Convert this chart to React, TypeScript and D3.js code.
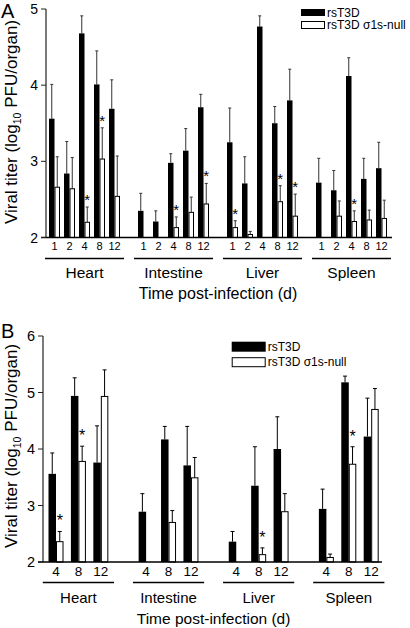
import React from "react";
import * as d3 from "d3";

// ---------- DATA ----------
const organs = ["Heart", "Intestine", "Liver", "Spleen"];
const seriesNames = ["rsT3D", "rsT3D σ1s-null"];
const daysA = ["1", "2", "4", "8", "12"];
const daysB = ["4", "8", "12"];
const yTicksA = [2, 3, 4, 5];
const yTicksB = [2, 3, 4, 5, 6];

// Panel A (organ-major, days 1,2,4,8,12)
const aWildMean = [3.56, 2.84, 4.68, 4.01, 3.69, 2.35, 2.21, 2.98, 3.14, 3.71, 3.25, 2.71, 4.77, 3.5, 3.8, 2.72, 2.62, 4.12, 2.77, 2.91];
const aWildErr = [0.45, 0.42, 0.23, 0.44, 0.38, 0.23, 0.14, 0.12, 0.29, 0.17, 0.45, 0.35, 0.14, 0.22, 0.41, 0.32, 0.26, 0.24, 0.27, 0.34];
const aNullMean = [2.66, 2.64, 2.2, 3.03, 2.54, null, null, 2.13, 2.33, 2.44, 2.13, 2.04, null, 2.47, 2.28, null, 2.28, 2.21, 2.23, 2.25];
const aNullErr = [0.4, 0.41, 0.2, 0.41, 0.53, null, null, 0.14, 0.2, 0.27, 0.09, 0.04, null, 0.21, 0.29, null, 0.2, 0.14, 0.13, 0.24];
const aStars = [0, 0, 1, 1, 0, 0, 0, 1, 0, 1, 1, 0, 0, 1, 1, 0, 0, 1, 0, 0];

// Panel B (organ-major, days 4,8,12)
const bWildMean = [3.56, 4.94, 3.76, 2.89, 4.17, 3.71, 2.36, 3.35, 4.0, 2.94, 5.18, 4.22];
const bWildErr = [0.37, 0.32, 0.65, 0.32, 0.23, 0.69, 0.18, 0.69, 0.57, 0.35, 0.11, 0.68];
const bNullMean = [2.36, 3.78, 4.93, null, 2.7, 3.49, null, 2.13, 2.89, 2.08, 3.73, 4.7];
const bNullErr = [0.18, 0.27, 0.47, null, 0.21, 0.36, null, 0.12, 0.32, 0.06, 0.31, 0.37];
const bStars = [1, 1, 0, 0, 0, 0, 0, 1, 0, 0, 1, 0];

const FONT = "Arial, 'Liberation Sans', Helvetica, sans-serif";

type Cfg = {
  letter: string;
  letterY: number;
  days: string[];
  wildMean: (number | null)[];
  wildErr: (number | null)[];
  nullMean: (number | null)[];
  nullErr: (number | null)[];
  stars: number[];
  yTicks: number[];
  yBottom: number;
  yTop: number;
  axisX: number;
  axisEndX: number;
  xStart: number;
  xEnd: number;
  padInner: number;
  barW: number;
  capW: number;
  errColor: string;
  tickLabelY: number;
  tickFont: number;
  yTickFont: number;
  underlineY: number;
  organY: number;
  organFont: number;
  titleY: number;
  titleFont: number;
  yLabelX: number;
  yLabelY: number;
  yLabelFont: number;
  legX: number;
  legW: number;
  legRows: { y: number; h: number; ty: number }[];
  legFont: number;
  starFont: number;
  starOffset: number;
};

function Panel({ c }: { c: Cfg }) {
  const yDom = [c.yTicks[0], c.yTicks[c.yTicks.length - 1]];
  const y = d3.scaleLinear().domain(yDom).range([c.yBottom, c.yTop]);
  const xo = d3.scaleBand<string>().domain(organs).range([c.xStart, c.xEnd]).paddingInner(c.padInner).paddingOuter(0);
  const xi = d3.scaleBand<string>().domain(c.days).range([0, xo.bandwidth()]).padding(0);
  const series = [
    { mean: c.wildMean, err: c.wildErr, fill: "#000", stroke: "#000", dx: -c.barW },
    { mean: c.nullMean, err: c.nullErr, fill: "#fff", stroke: "#000", dx: 0 },
  ];
  const nd = c.days.length;
  const base = y(yDom[0]);
  return (
    <g>
      <text x={1} y={c.letterY} fontSize={20} fontFamily={FONT}>{c.letter}</text>
      <text
        transform={`translate(${c.yLabelX},${c.yLabelY}) rotate(-90)`}
        textAnchor="middle"
        fontSize={c.yLabelFont}
        fontFamily={FONT}
      >
        Viral titer (log<tspan dy={4} fontSize={c.yLabelFont * 0.62}>10</tspan>
        <tspan dy={-4}> PFU/organ)</tspan>
      </text>
      {organs.map((o, oi) =>
        c.days.map((d, di) => {
          const idx = oi * nd + di;
          const cx = (xo(o) as number) + (xi(d) as number) + xi.bandwidth() / 2;
          return (
            <g key={o + d}>
              {series.map((s, si) => {
                const m = s.mean[idx];
                const e = s.err[idx];
                if (m == null) return null;
                const x0 = cx + s.dx;
                const bx = x0 + c.barW / 2;
                const top = y(m);
                const et = y(m + (e ?? 0));
                return (
                  <g key={si}>
                    <line x1={bx} x2={bx} y1={top} y2={et} stroke={c.errColor} strokeWidth={1} />
                    <line x1={bx - c.capW / 2} x2={bx + c.capW / 2} y1={et} y2={et} stroke={c.errColor} strokeWidth={1} />
                    <rect
                      x={si === 1 ? x0 + 0.5 : x0}
                      y={top}
                      width={si === 1 ? c.barW - 1 : c.barW}
                      height={base - top}
                      fill={s.fill}
                      stroke={si === 1 ? s.stroke : "none"}
                      strokeWidth={1}
                    />
                    {si === 1 && c.stars[idx] ? (
                      <text x={bx} y={et - c.starOffset} textAnchor="middle" fontSize={c.starFont} fontFamily={FONT}>*</text>
                    ) : null}
                  </g>
                );
              })}
            </g>
          );
        })
      )}
      <line x1={c.axisX} x2={c.axisX} y1={c.yBottom} y2={c.yTop} stroke="#222" strokeWidth={1.2} />
      <line x1={c.axisX - 5} x2={c.axisEndX} y1={c.yBottom} y2={c.yBottom} stroke="#000" strokeWidth={1.4} />
      {c.yTicks.map((t) => (
        <g key={t}>
          <line x1={c.axisX - 5} x2={c.axisX} y1={y(t)} y2={y(t)} stroke="#222" strokeWidth={1} />
          <text x={c.axisX - 8} y={y(t)} dy="0.36em" textAnchor="end" fontSize={c.yTickFont} fontFamily={FONT}>{t}</text>
        </g>
      ))}
      {organs.map((o) => {
        const gx = xo(o) as number;
        return (
          <g key={o}>
            {c.days.map((d) => (
              <text
                key={d}
                x={gx + (xi(d) as number) + xi.bandwidth() / 2}
                y={c.tickLabelY}
                dy="0.36em"
                textAnchor="middle"
                fontSize={c.tickFont}
                fontFamily={FONT}
              >
                {d}
              </text>
            ))}
            <line x1={gx - 2} x2={gx + xo.bandwidth() + 2} y1={c.underlineY} y2={c.underlineY} stroke="#000" strokeWidth={1.6} />
            <text x={gx + xo.bandwidth() / 2} y={c.organY} dy="0.36em" textAnchor="middle" fontSize={c.organFont} fontFamily={FONT}>{o}</text>
          </g>
        );
      })}
      <text x={(c.xStart + c.xEnd) / 2} y={c.titleY} dy="0.36em" textAnchor="middle" fontSize={c.titleFont} fontFamily={FONT}>
        Time post-infection (d)
      </text>
      {seriesNames.map((n, i) => (
        <g key={n}>
          <rect
            x={i === 1 ? c.legX + 0.5 : c.legX}
            y={c.legRows[i].y}
            width={i === 1 ? c.legW - 1 : c.legW}
            height={c.legRows[i].h}
            fill={i === 0 ? "#000" : "#fff"}
            stroke={i === 1 ? "#000" : "none"}
          />
          <text x={c.legX + c.legW + 2} y={c.legRows[i].ty} dy="0.36em" fontSize={c.legFont} fontFamily={FONT}>{n}</text>
        </g>
      ))}
    </g>
  );
}

const cfgA: Cfg = {
  letter: "A",
  letterY: 18,
  days: daysA,
  wildMean: aWildMean,
  wildErr: aWildErr,
  nullMean: aNullMean,
  nullErr: aNullErr,
  stars: aStars,
  yTicks: yTicksA,
  yBottom: 237.5,
  yTop: 9,
  axisX: 46,
  axisEndX: 392,
  xStart: 47,
  xEnd: 389,
  padInner: 14 / 89,
  barW: 5.5,
  capW: 3,
  errColor: "#333",
  tickLabelY: 246.5,
  tickFont: 11,
  yTickFont: 14,
  underlineY: 258.5,
  organY: 272.5,
  organFont: 15.5,
  titleY: 293,
  titleFont: 16,
  yLabelX: 17,
  yLabelY: 122,
  yLabelFont: 17,
  legX: 301,
  legW: 24,
  legRows: [
    { y: 9, h: 7, ty: 12.5 },
    { y: 21.5, h: 7, ty: 25 },
  ],
  legFont: 12,
  starFont: 15,
  starOffset: 2,
};

const cfgB: Cfg = {
  letter: "B",
  letterY: 338,
  days: daysB,
  wildMean: bWildMean,
  wildErr: bWildErr,
  nullMean: bNullMean,
  nullErr: bNullErr,
  stars: bStars,
  yTicks: yTicksB,
  yBottom: 562,
  yTop: 336,
  axisX: 43,
  axisEndX: 382,
  xStart: 44.8,
  xEnd: 382.4,
  padInner: 0.254,
  barW: 7.5,
  capW: 4,
  errColor: "#000",
  tickLabelY: 571.5,
  tickFont: 13.5,
  yTickFont: 14.5,
  underlineY: 582.5,
  organY: 598,
  organFont: 15,
  titleY: 618,
  titleFont: 15.5,
  yLabelX: 16.5,
  yLabelY: 446,
  yLabelFont: 17,
  legX: 231.7,
  legW: 34,
  legRows: [
    { y: 341.7, h: 10, ty: 347 },
    { y: 357.7, h: 9, ty: 362 },
  ],
  legFont: 12,
  starFont: 16,
  starOffset: 5,
};

export default function App() {
  return (
    <svg
      width={410}
      height={628}
      viewBox="0 0 410 628"
      style={{ position: "absolute", left: 0, top: 0, background: "#fff" }}
    >
      <rect x={0} y={0} width={410} height={628} fill="#fff" />
      <Panel c={cfgA} />
      <Panel c={cfgB} />
    </svg>
  );
}
